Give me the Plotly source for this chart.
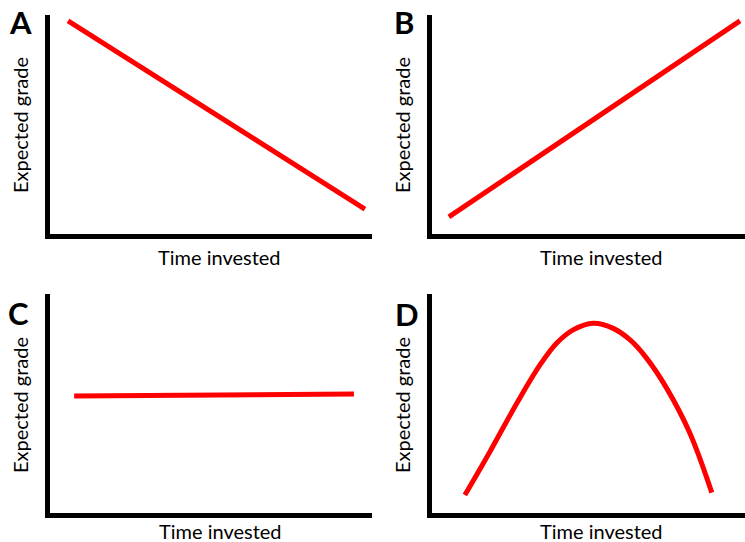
import plotly.graph_objects as go

# ---- data (axes run 0..10 in each panel) ----
time_a = [0.56, 9.78]
grade_a = [9.73, 1.14]

time_b = [0.54, 9.84]
grade_b = [0.78, 9.73]

time_c = [0.75, 9.44]
grade_c = [5.34, 5.43]

time_d = [1.05, 1.85, 2.71, 3.45, 3.98, 4.51, 5.15, 5.79, 6.33, 6.86, 7.50, 8.24, 8.94]
grade_d = [0.82, 2.80, 5.01, 6.76, 7.75, 8.36, 8.66, 8.43, 7.90, 7.06, 5.69, 3.64, 0.93]

panel_letters = ["A", "B", "C", "D"]
x_title = "Time invested"
y_title = "Expected grade"

# ---- layout helpers ----
W, H = 745, 542
FONT = "Lato, 'Open Sans', sans-serif"
RED = "#FF0000"


def px_x(p):
    return p / W


def px_y(p):
    return 1 - p / H


fig = go.Figure()

series = [(time_a, grade_a, "linear"), (time_b, grade_b, "linear"),
          (time_c, grade_c, "linear"), (time_d, grade_d, "spline")]
for i, (xs, ys, shape) in enumerate(series):
    sfx = "" if i == 0 else str(i + 1)
    fig.add_trace(go.Scatter(
        x=xs, y=ys, mode="lines",
        line=dict(color=RED, width=5, shape=shape, smoothing=1.0),
        xaxis="x" + sfx, yaxis="y" + sfx, showlegend=False, hoverinfo="skip",
    ))

# pixel boxes (left, right, top, bottom) of each panel's plotting area
boxes = [(50, 372, 15, 234), (432, 745, 15, 234),
         (50, 372, 294, 513), (432, 745, 294, 513)]

axis_common = dict(range=[0, 10], showgrid=False, zeroline=False,
                   showticklabels=False, ticks="", showline=True,
                   linecolor="black", linewidth=5, fixedrange=True)

layout = {}
for i, (l, r, t, b) in enumerate(boxes):
    sfx = "" if i == 0 else str(i + 1)
    layout["xaxis" + sfx] = dict(axis_common, domain=[px_x(l), px_x(r)],
                                 anchor="y" + sfx)
    layout["yaxis" + sfx] = dict(axis_common, domain=[px_y(b), px_y(t)],
                                 anchor="x" + sfx)

annotations = []
# panel letters
letter_pos = [(20, 22), (404, 22), (18, 313), (407, 314)]
for letter, (x, y) in zip(panel_letters, letter_pos):
    annotations.append(dict(text="<b>%s</b>" % letter, x=px_x(x), y=px_y(y),
                            xref="paper", yref="paper", showarrow=False,
                            xanchor="center", yanchor="middle",
                            font=dict(family=FONT, size=31, color="black")))
# x titles
xt_pos = [(219, 257), (601, 257), (220, 531), (601, 531)]
for x, y in xt_pos:
    annotations.append(dict(text=x_title, x=px_x(x), y=px_y(y),
                            xref="paper", yref="paper", showarrow=False,
                            xanchor="center", yanchor="middle",
                            font=dict(family=FONT, size=20, color="black")))
# y titles
yt_pos = [(20, 125), (402, 125), (20, 405), (402, 405)]
for x, y in yt_pos:
    annotations.append(dict(text=y_title, x=px_x(x), y=px_y(y),
                            xref="paper", yref="paper", showarrow=False,
                            textangle=-90, xanchor="center", yanchor="middle",
                            font=dict(family=FONT, size=20, color="black")))

fig.update_layout(
    width=W, height=H,
    margin=dict(l=0, r=0, t=0, b=0),
    paper_bgcolor="white", plot_bgcolor="white",
    annotations=annotations,
    **layout,
)

fig.write_html("out.html",
               config={"displayModeBar": False},
               post_script="document.body.style.margin='0px';"
                           "document.body.style.overflow='hidden';")
